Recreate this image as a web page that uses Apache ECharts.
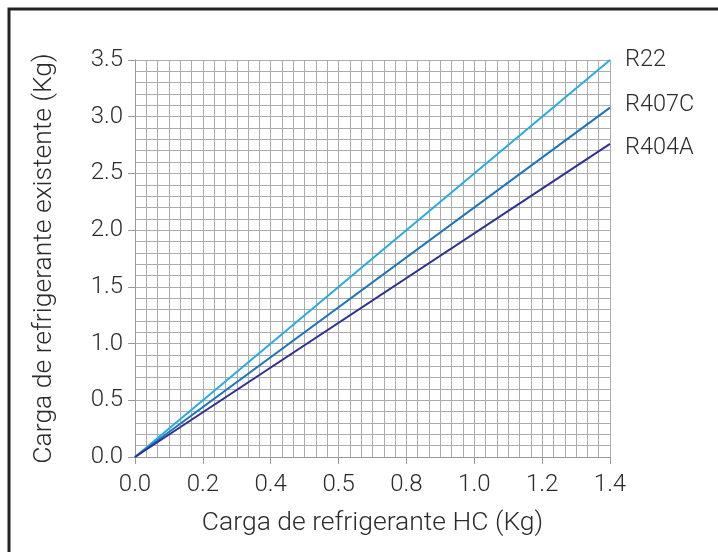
<!DOCTYPE html>
<html>
<head>
<meta charset="utf-8">
<script src="https://cdn.jsdelivr.net/npm/echarts@6/dist/echarts.min.js"></script>
<style>
  html, body { margin: 0; padding: 0; background: #fff; }
  #chart { width: 718px; height: 552px; }
</style>
</head>
<body>
<div id="chart"></div>
<script>
// eixo x (carga HC) - o "0.5" no lugar de 0.6 vem assim do original
var xTicks = [0, 0.2, 0.4, 0.6, 0.8, 1.0, 1.2, 1.4];
var xTickLabels = ["0.0", "0.2", "0.4", "0.5", "0.8", "1.0", "1.2", "1.4"];
var yTickLabels = ["0.0", "0.5", "1.0", "1.5", "2.0", "2.5", "3.0", "3.5"];

var names = ["R22", "R407C", "R404A"];
var hcCharge = [0, 1.4];
var r22 = [0, 3.5];
var r407c = [0, 3.08];
var r404a = [0, 2.76];

var colors = ["#29abe2", "#1b75bc", "#2e3192"];
var labelOffsets = [[0, 0], [0, -3], [0, 4]];

var font = "Roboto";
var textColor = "#2b2b2b";

function pairs(ys) {
  return hcCharge.map(function (x, i) { return [x, ys[i]]; });
}

var myChart = echarts.init(document.getElementById("chart"));

myChart.setOption({
  animation: false,
  textStyle: { fontFamily: font, fontWeight: 300 },
  graphic: [
    {
      type: "rect",
      shape: { x: 9, y: 9, width: 730, height: 570 },
      style: { fill: "none", stroke: "#222", lineWidth: 3 },
    },
  ],
  grid: {
    left: 135,
    right: 108,
    top: 60,
    bottom: 95,
  },
  xAxis: {
    type: "value",
    min: 0,
    max: 1.4,
    interval: 0.2,
    name: "Carga de refrigerante HC (Kg)",
    nameLocation: "middle",
    nameGap: 53,
    nameTextStyle: { color: textColor, fontSize: 26.5, fontFamily: font, fontWeight: 300 },
    axisLine: { show: true, lineStyle: { color: "#999", width: 1 } },
    axisTick: { show: true, length: 7, lineStyle: { color: "#999" } },
    axisLabel: {
      color: textColor,
      fontSize: 24,
      fontWeight: 300,
      margin: 16,
      formatter: function (v) {
        var i = xTicks.findIndex(function (t) { return Math.abs(t - v) < 1e-6; });
        return i >= 0 ? xTickLabels[i] : "";
      },
    },
    splitLine: { show: true, lineStyle: { color: "#ababab", width: 1 } },
    minorTick: { show: false, splitNumber: 6 },
    minorSplitLine: { show: true, lineStyle: { color: "#ababab", width: 1 } },
  },
  yAxis: {
    type: "value",
    min: 0,
    max: 3.5,
    interval: 0.5,
    name: "Carga de refrigerante existente (Kg)",
    nameLocation: "middle",
    nameGap: 77,
    nameTextStyle: { color: textColor, fontSize: 26.5, fontFamily: font, fontWeight: 300 },
    axisLine: { show: true, lineStyle: { color: "#999", width: 1 } },
    axisTick: { show: true, length: 7, lineStyle: { color: "#999" } },
    axisLabel: {
      color: textColor,
      fontSize: 24,
      fontWeight: 300,
      margin: 12,
      formatter: function (v) {
        return yTickLabels[Math.round(v / 0.5)];
      },
    },
    splitLine: { show: true, lineStyle: { color: "#ababab", width: 1 } },
    minorTick: { show: false, splitNumber: 5 },
    minorSplitLine: { show: true, lineStyle: { color: "#ababab", width: 1 } },
  },
  series: [r22, r407c, r404a].map(function (ys, i) {
    return {
      name: names[i],
      type: "line",
      data: pairs(ys),
      showSymbol: false,
      lineStyle: { color: colors[i], width: 2 },
      itemStyle: { color: colors[i] },
      endLabel: {
        show: true,
        formatter: names[i],
        color: textColor,
        fontSize: 23.5,
        fontWeight: 300,
        fontFamily: font,
        distance: 15,
        offset: labelOffsets[i],
      },
    };
  }),
});
</script>
</body>
</html>
